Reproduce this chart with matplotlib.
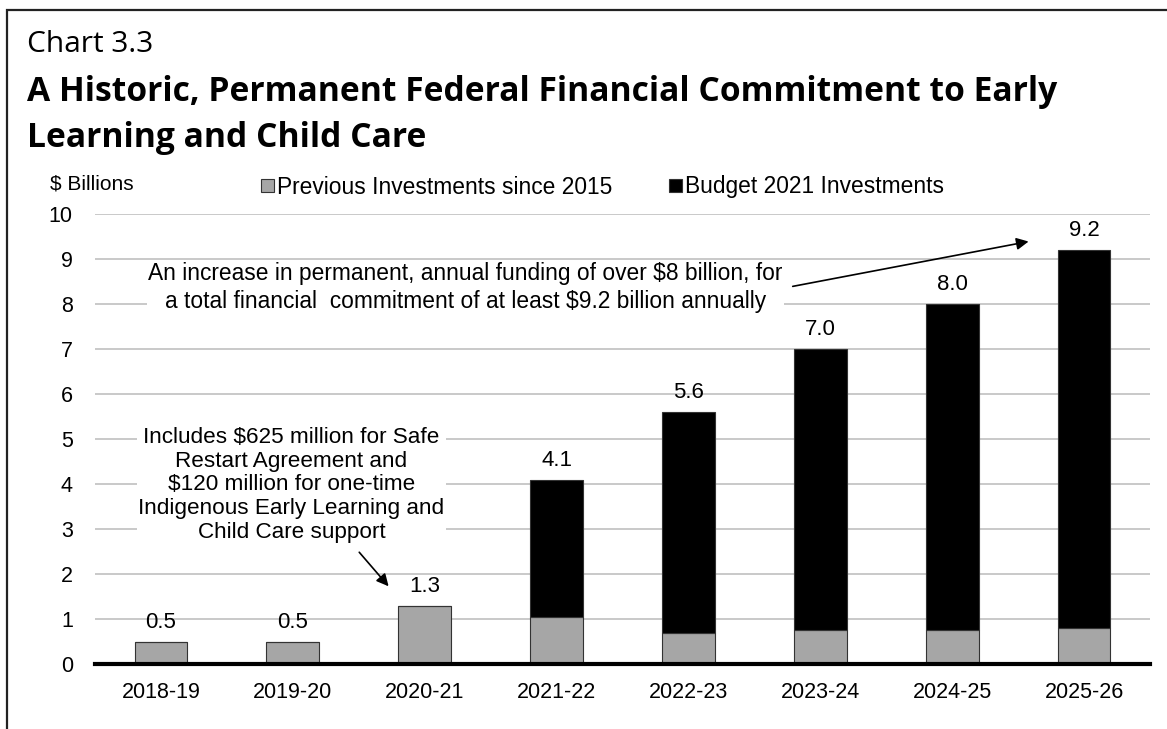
import matplotlib
matplotlib.use("Agg")
import matplotlib.pyplot as plt
from matplotlib.patches import Rectangle
import numpy as np

categories = ["2018-19", "2019-20", "2020-21", "2021-22", "2022-23", "2023-24", "2024-25", "2025-26"]
previous = [0.5, 0.5, 1.3, 1.05, 0.7, 0.75, 0.75, 0.8]
totals = [0.5, 0.5, 1.3, 4.1, 5.6, 7.0, 8.0, 9.2]
budget2021 = [t - p for t, p in zip(totals, previous)]
total_labels = ["0.5", "0.5", "1.3", "4.1", "5.6", "7.0", "8.0", "9.2"]
yticks = list(range(0, 11))

W, H = 1167, 729
fig = plt.figure(figsize=(W / 100, H / 100), dpi=100)
fig.patch.set_facecolor("white")

# frame around the chart (cut by right/bottom edges)
fig.patches.append(Rectangle((7 / W, -0.05), 1.1, 1 - 10 / H + 0.05, transform=fig.transFigure,
                             fill=False, edgecolor="#222222", linewidth=1.6))

ax = fig.add_axes([95 / W, 1 - 664 / H, (1150 - 95) / W, (664 - 214) / H])
x = np.arange(len(categories))
bw = 0.4
ax.bar(x, previous, bw, color="#a6a6a6", edgecolor="#333333", linewidth=0.8, zorder=3,
       label="Previous Investments since 2015")
ax.bar(x, budget2021, bw, bottom=previous, color="#000000", edgecolor="#333333", linewidth=0.8,
       zorder=3, label="Budget 2021 Investments")

for xi, t, lab in zip(x, totals, total_labels):
    ax.text(xi, t + 0.2, lab, ha="center", va="bottom", fontsize=16,
            family="Liberation Sans", zorder=4)

ax.set_xlim(-0.5, len(categories) - 0.5)
ax.set_ylim(0, 10)
ax.set_yticks(yticks)
ax.set_yticklabels([str(v) for v in yticks], fontsize=15.5, family="Liberation Sans")
ax.set_xticks(x)
ax.set_xticklabels(categories, fontsize=15.5, family="Liberation Sans")
ax.tick_params(axis="y", length=0, pad=16)
ax.tick_params(axis="x", length=0, pad=13)
ax.grid(axis="y", color="#c0c0c0", linewidth=1.2, zorder=0)
for s in ["top", "right", "left"]:
    ax.spines[s].set_visible(False)
ax.spines["bottom"].set_linewidth(3)
ax.spines["bottom"].set_zorder(5)

# annotations
ax.annotate("", xy=(1.74, 1.68), xytext=(1.49, 2.53),
            arrowprops=dict(arrowstyle="-|>", color="black", lw=1.2, mutation_scale=18), zorder=6)
ax.text(0.99, 3.98, "Includes $625 million for Safe\nRestart Agreement and\n$120 million for one-time\n"
        "Indigenous Early Learning and\nChild Care support",
        ha="center", va="center", fontsize=16.2, family="Liberation Sans", linespacing=1.17,
        bbox=dict(facecolor="white", edgecolor="none", pad=1), zorder=4)

ax.annotate("", xy=(6.6, 9.4), xytext=(4.77, 8.38),
            arrowprops=dict(arrowstyle="-|>", color="black", lw=1.2, mutation_scale=18), zorder=6)
ax.text(2.31, 8.37, "An increase in permanent, annual funding of over $8 billion, for\n"
        "a total financial  commitment of at least $9.2 billion annually",
        ha="center", va="center", fontsize=16.4, family="Liberation Sans", linespacing=1.25,
        bbox=dict(facecolor="white", edgecolor="none", pad=1), zorder=4)

# titles
fig.text(27 / W, 1 - 45 / H, "Chart 3.3", fontsize=21.5, family="Open Sans", va="center", ha="left")
fig.text(27 / W, 1 - 92 / H, "A Historic, Permanent Federal Financial Commitment to Early",
         fontsize=24.2, family="Open Sans", weight="bold", va="center", ha="left")
fig.text(27 / W, 1 - 138 / H, "Learning and Child Care",
         fontsize=24.2, family="Open Sans", weight="bold", va="center", ha="left")
fig.text(50 / W, 1 - 184 / H, "$ Billions", fontsize=15, family="Liberation Sans", va="center", ha="left")

leg = fig.legend(loc="center left", bbox_to_anchor=(261 / W, 1 - 187 / H), ncol=2, frameon=False,
                 prop={"family": "Liberation Sans", "size": 16.4}, handlelength=0.55, handleheight=0.55,
                 handletextpad=0.15, columnspacing=2.5, borderaxespad=0, borderpad=0)

fig.savefig("out.png", dpi=100, facecolor="white")
